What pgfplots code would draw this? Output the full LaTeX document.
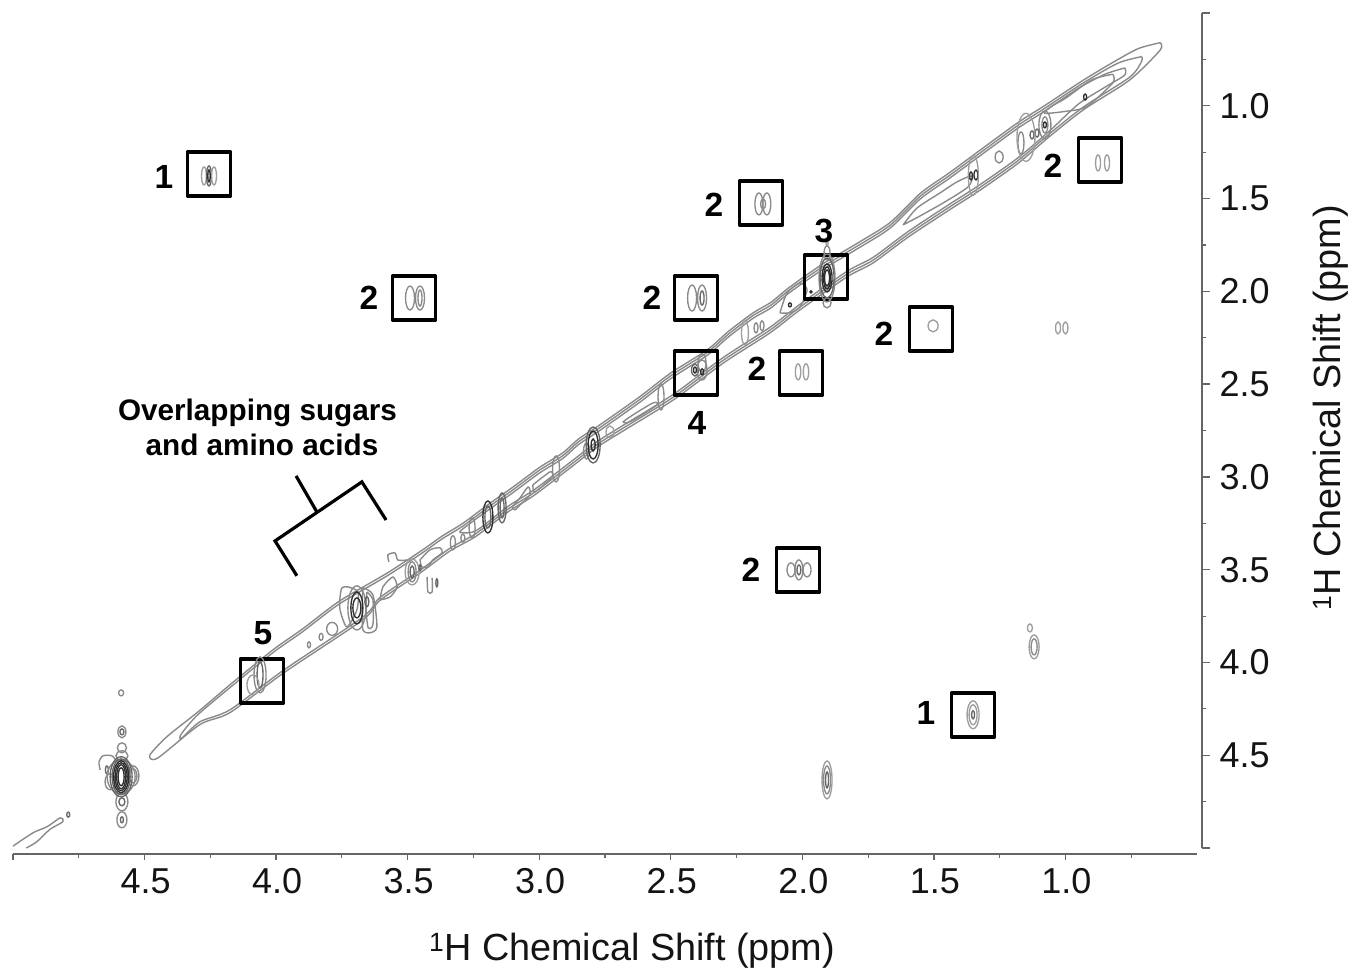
\documentclass[border=0pt]{standalone}
\usepackage{pgfplots}
\pgfplotsset{compat=1.18}
\usepackage{fontspec}
\setmainfont{Liberation Sans}
\definecolor{cL}{gray}{0.62}
\definecolor{cA}{gray}{0.54}
\definecolor{cM}{gray}{0.40}
\definecolor{cD}{gray}{0.18}
\definecolor{axc}{gray}{0.4}
\definecolor{txc}{gray}{0.08}
\newcommand\pk[5][cA]{\addplot[only marks, mark=o, mark size=1pt, mark options={xscale=#4, yscale=#5, draw=#1, line width=1.35pt, fill=none}] coordinates {(#2,#3)};}
\newcommand\bx[4]{\addplot[black, line width=3.4pt, line join=round, no markers] coordinates {(#1,#3) (#2,#3) (#2,#4) (#1,#4) (#1,#3) (#2,#3)};}
\tikzset{ct/.style={draw=cA, line width=1.4pt, smooth, tension=0.45, no markers, line join=round},
lab/.style={font=\fontsize{33.5}{36}\selectfont\bfseries, text=black, inner sep=0pt}}
\begin{document}
\begin{tikzpicture}
\useasboundingbox (0,0) rectangle (1356pt,970pt);
% ---------- x axis ----------
\begin{axis}[anchor=south west, at={(13pt,116pt)}, scale only axis, width=1184pt, height=835pt,
  x dir=reverse, xmin=0.5, xmax=5, ymin=0.5, ymax=5, hide y axis, axis x line=bottom,
  axis line style={-, draw=axc, line width=1.6pt},
  xtick={1,1.5,2,2.5,3,3.5,4,4.5,5}, xticklabels={1.0,1.5,2.0,2.5,3.0,3.5,4.0,4.5,},
  minor xtick={0.75,1.25,1.75,2.25,2.75,3.25,3.75,4.25,4.75},
  tick align=outside, major tick length=6pt, minor tick length=4pt,
  tick style={draw=axc, line width=1.3pt}, minor tick style={draw=axc, line width=1.1pt},
  xticklabel style={font=\fontsize{36}{40}\selectfont, text=txc, yshift=-5pt, xshift=1pt}]
\addplot[draw=none] coordinates {(1,1)};
\end{axis}
% ---------- y axis ----------
\begin{axis}[anchor=south west, at={(18pt,122pt)}, scale only axis, width=1184pt, height=835pt,
  x dir=reverse, y dir=reverse, xmin=0.5, xmax=5, ymin=0.5, ymax=5, hide x axis, axis y line=right,
  axis line style={-, draw=axc, line width=1.6pt},
  ytick={0.5,1,1.5,2,2.5,3,3.5,4,4.5,5}, yticklabels={,1.0,1.5,2.0,2.5,3.0,3.5,4.0,4.5,},
  minor ytick={0.75,1.25,1.75,2.25,2.75,3.25,3.75,4.25,4.75},
  tick align=outside, major tick length=8pt, minor tick length=4pt,
  tick style={draw=axc, line width=1.3pt}, minor tick style={draw=axc, line width=1.1pt},
  yticklabel style={font=\fontsize{36}{40}\selectfont, text=txc, xshift=6pt}]
\addplot[draw=none] coordinates {(1,1)};
\end{axis}
% ---------- data ----------
\begin{axis}[anchor=south west, at={(13pt,122pt)}, scale only axis, width=1184pt, height=835pt,
  x dir=reverse, y dir=reverse, xmin=0.5, xmax=5, ymin=0.5, ymax=5, hide axis]
% diagonal outer contour
\addplot[ct] coordinates {(0.64,0.66)(0.72,0.69)(0.80,0.75)(0.93,0.86)(1.08,1.00)(1.18,1.09)(1.33,1.245)(1.44,1.36)(1.55,1.47)(1.667,1.63)(1.79,1.74)(1.92,1.85)(2.047,1.976)(2.12,2.06)(2.187,2.116)(2.28,2.215)(2.362,2.316)(2.50,2.44)(2.62,2.57)(2.77,2.72)(2.85,2.795)(2.91,2.87)(3.0,2.95)(3.10,3.055)(3.20,3.155)(3.29,3.25)(3.37,3.32)(3.45,3.40)(3.58,3.52)(3.76,3.67)(3.9,3.82)(4.01,3.93)(4.175,4.12)(4.30,4.27)(4.415,4.40)(4.48,4.50)(4.45,4.515)(4.29,4.335)(4.175,4.27)(3.97,4.055)(3.67,3.77)(3.605,3.665)(3.45,3.515)(3.34,3.40)(3.24,3.32)(3.12,3.19)(3.02,3.10)(2.89,2.96)(2.78,2.84)(2.69,2.76)(2.49,2.585)(2.30,2.386)(2.123,2.224)(2.009,2.10)(1.83,1.922)(1.731,1.847)(1.6,1.71)(1.44,1.56)(1.33,1.46)(1.18,1.31)(1.06,1.165)(0.93,1.02)(0.755,0.86)(0.64,0.70)(0.64,0.66)};
% second contour
\addplot[ct] coordinates {(0.71,0.735)(0.80,0.77)(0.93,0.875)(1.08,1.015)(1.18,1.105)(1.33,1.26)(1.44,1.375)(1.55,1.485)(1.667,1.645)(1.79,1.755)(1.92,1.865)(2.047,1.99)(2.12,2.075)(2.187,2.13)(2.28,2.23)(2.362,2.33)(2.50,2.455)(2.62,2.585)(2.77,2.735)(2.85,2.81)(2.91,2.885)(3.0,2.965)(3.10,3.07)(3.20,3.17)(3.29,3.265)(3.37,3.335)(3.45,3.415)(3.58,3.535)(3.76,3.685)(3.9,3.835)(4.01,3.945)(4.175,4.135)(4.30,4.285)(4.36,4.385)(4.36,4.41)(4.29,4.32)(4.175,4.255)(3.97,4.04)(3.67,3.755)(3.605,3.65)(3.45,3.50)(3.34,3.385)(3.24,3.305)(3.12,3.175)(3.02,3.085)(2.89,2.945)(2.78,2.825)(2.69,2.745)(2.49,2.57)(2.30,2.371)(2.123,2.209)(2.009,2.085)(1.83,1.907)(1.731,1.832)(1.6,1.695)(1.44,1.545)(1.33,1.445)(1.18,1.295)(1.06,1.15)(0.93,1.005)(0.755,0.845)(0.71,0.76)(0.71,0.735)};
% third contour
\addplot[ct] coordinates {(0.774,0.796)(0.85,0.83)(0.95,0.905)(1.08,1.03)(1.18,1.12)(1.33,1.275)(1.44,1.39)(1.55,1.50)(1.667,1.66)(1.79,1.77)(1.92,1.88)(2.047,2.005)(2.12,2.09)(2.187,2.145)(2.28,2.245)(2.362,2.345)(2.50,2.47)(2.62,2.60)(2.77,2.75)(2.85,2.825)(2.91,2.90)(3.0,2.98)(3.10,3.085)(3.20,3.185)(3.29,3.28)(3.30,3.30)(3.24,3.29)(3.12,3.16)(3.02,3.07)(2.89,2.93)(2.78,2.81)(2.69,2.73)(2.49,2.555)(2.30,2.356)(2.123,2.194)(2.009,2.07)(1.83,1.892)(1.731,1.817)(1.6,1.68)(1.44,1.53)(1.33,1.43)(1.18,1.28)(1.06,1.135)(0.95,0.99)(0.85,0.90)(0.775,0.835)(0.774,0.796)};
% inner islands
\addplot[ct] coordinates {(0.82,0.83)(0.90,0.86)(1.0,0.96)(1.05,1.0)(1.08,1.04)(1.0,1.03)(0.92,1.005)(0.82,0.877)(0.82,0.83)};
\addplot[ct] coordinates {(1.617,1.642)(1.564,1.551)(1.477,1.47)(1.412,1.41)(1.355,1.378)(1.37,1.437)(1.458,1.518)(1.553,1.594)(1.617,1.642)};
\addplot[ct] coordinates {(2.085,2.116)(2.058,2.009)(2.009,1.955)(1.982,1.992)(2.009,2.084)(2.047,2.116)(2.085,2.116)};
\addplot[ct] coordinates {(2.682,2.704)(2.644,2.666)(2.567,2.601)(2.552,2.612)(2.628,2.682)(2.667,2.709)(2.682,2.704)};
\addplot[ct] coordinates {(3.024,3.043)(2.959,2.973)(2.951,3.0)(3.016,3.081)(3.024,3.043)};
\addplot[ct] coordinates {(3.103,3.162)(3.073,3.113)(3.042,3.054)(3.035,3.097)(3.073,3.151)(3.092,3.178)(3.103,3.162)};
\addplot[ct] coordinates {(3.453,3.447)(3.415,3.393)(3.377,3.382)(3.369,3.409)(3.404,3.447)(3.423,3.485)(3.446,3.485)(3.453,3.447)};
\addplot[ct] coordinates {(3.605,3.663)(3.594,3.593)(3.556,3.539)(3.54,3.593)(3.567,3.647)(3.605,3.663)};
% lobes around 3.7
\addplot[ct] coordinates {(3.757,3.647)(3.75,3.598)(3.727,3.593)(3.689,3.62)(3.693,3.717)(3.731,3.808)(3.757,3.717)(3.757,3.647)};
\addplot[ct] coordinates {(3.67,3.598)(3.632,3.636)(3.617,3.808)(3.643,3.84)(3.67,3.824)(3.673,3.70)(3.67,3.598)};
\addplot[ct] coordinates {(3.655,3.62)(3.632,3.663)(3.632,3.797)(3.65,3.813)(3.658,3.717)(3.655,3.62)};
% strays near 3.5
\addplot[ct] coordinates {(3.571,3.458)(3.575,3.42)(3.548,3.41)(3.537,3.448)(3.502,3.448)};
\addplot[ct] coordinates {(3.426,3.539)(3.423,3.62)(3.407,3.62)(3.407,3.544)};
% lower-left tail
\addplot[ct] coordinates {(5.0,4.99)(4.924,4.918)(4.87,4.885)(4.82,4.837)(4.81,4.858)(4.86,4.90)(4.91,4.967)(4.95,5.0)};
\pk[cM]{4.79}{4.82}{1.5}{2.5}
% hook near the big peak
\addplot[ct] coordinates {(4.669,4.579)(4.673,4.535)(4.658,4.503)(4.624,4.503)(4.605,4.535)};
% big peak at 4.6
\pk[cA]{4.589}{4.164}{2.5}{3}
\pk[cA]{4.586}{4.374}{4}{6}
\pk[cM]{4.586}{4.374}{2}{3}
\pk[cA]{4.586}{4.46}{4.5}{5}
\pk[cA]{4.586}{4.503}{6}{5}
\pk[cA]{4.586}{4.751}{6}{9}
\pk[cM]{4.586}{4.751}{3}{4}
\pk[cA]{4.586}{4.848}{5}{8}
\pk[cM]{4.586}{4.848}{1.5}{3}
\pk[cA]{4.544}{4.611}{6}{10}
\pk[cA]{4.544}{4.611}{4}{7}
\pk[cM]{4.643}{4.579}{1.5}{4}
\pk[cA]{4.631}{4.643}{5}{8}
\pk[cA]{4.589}{4.616}{14}{17}
\pk[cM]{4.589}{4.616}{11}{20}
\pk[cM]{4.589}{4.616}{9}{18}
\pk[cD]{4.589}{4.616}{7.5}{16}
\pk[cD]{4.589}{4.616}{6}{14}
\pk[cD]{4.589}{4.616}{4.5}{12}
\pk[cD]{4.589}{4.616}{3}{9}
% off-diagonal peaks
\pk[cL]{4.274}{1.378}{2.5}{9}
\pk[cM]{4.255}{1.378}{2.5}{10}
\pk[cL]{4.236}{1.378}{2.5}{9}
\pk[cD]{4.255}{1.378}{1.2}{6}
\pk[cA]{3.491}{2.036}{4.5}{12}
\pk[cA]{3.453}{2.036}{4.5}{12}
\pk[cA]{3.453}{2.036}{2}{8}
\pk[cA]{2.419}{2.036}{4.5}{13}
\pk[cA]{2.381}{2.036}{4.5}{13}
\pk[cM]{2.381}{2.036}{2}{7}
\pk[cA]{2.165}{1.529}{4}{11}
\pk[cA]{2.135}{1.529}{4}{11}
\pk[cA]{2.149}{1.529}{2.5}{5}
\pk[cL]{0.876}{1.308}{2.5}{8}
\pk[cL]{0.842}{1.308}{2.5}{8}
\pk[cL]{2.016}{2.434}{2.7}{8}
\pk[cL]{1.986}{2.434}{2.7}{8}
\pk[cA]{2.043}{3.501}{4}{7}
\pk[cA]{2.013}{3.501}{4}{10}
\pk[cA]{1.982}{3.501}{4}{7}
\pk[cM]{2.013}{3.501}{2}{5}
\pk[cL]{1.503}{2.186}{5}{6}
\pk[cL]{1.351}{4.282}{6}{14}
\pk[cL]{1.351}{4.282}{4}{10}
\pk[cM]{1.351}{4.282}{1.5}{4}
\pk[cL]{1.906}{4.633}{5}{19}
\pk[cA]{1.906}{4.633}{3.5}{14}
\pk[cM]{1.906}{4.633}{1.5}{8}
\pk[cL]{1.119}{3.916}{5}{12}
\pk[cA]{1.119}{3.916}{3}{8}
\pk[cL]{1.135}{3.814}{2.5}{4}
\pk[cL]{1.028}{2.197}{2.5}{6}
\pk[cL]{1.0}{2.197}{2.5}{6}
% box 3 peak
\pk[cL]{1.906}{1.739}{1}{3}
\pk[cA]{1.906}{1.793}{3}{7}
\pk[cA]{1.906}{2.062}{4}{5}
\pk[cA]{1.906}{1.928}{8}{24}
\pk[cM]{1.906}{1.928}{7}{20}
\pk[cD]{1.906}{1.928}{5}{14}
\pk[cD]{1.906}{1.928}{3.5}{11}
\pk[cD]{1.906}{1.928}{2.5}{8}
\pk[cD]{1.967}{2.003}{1}{1}
% box 4 peak
\pk[cM]{2.408}{2.424}{3.5}{6}
\pk[cA]{2.381}{2.424}{5}{10}
\pk[cA]{2.381}{2.386}{4}{9}
\pk[cD]{2.381}{2.434}{1.5}{3}
\pk[cD]{2.408}{2.424}{1.5}{3}
% diagonal peaks
\pk[cD]{0.925}{0.953}{1.5}{3}
\pk[cA]{1.078}{1.103}{6}{14}
\pk[cA]{1.078}{1.103}{3}{8}
\pk[cD]{1.078}{1.103}{1.5}{3}
\pk[cM]{1.127}{1.157}{2}{4}
\pk[cM]{1.108}{1.147}{2}{4}
\pk[cA]{1.169}{1.20}{3}{11}
\pk[cL]{1.15}{1.17}{9}{24}
\pk[cA]{1.252}{1.276}{4}{6}
\pk[cD]{1.359}{1.378}{1.5}{4}
\pk[cD]{1.34}{1.373}{2}{5}
\pk[cL]{1.35}{1.375}{5}{20}
\pk[cD]{2.047}{2.073}{1.5}{2}
\pk[cA]{2.176}{2.197}{2}{5}
\pk[cA]{2.153}{2.186}{2}{5}
\pk[cL]{2.218}{2.224}{3.5}{12}
\pk[cA]{2.537}{2.569}{3}{13}
\pk[cL]{2.731}{2.758}{4}{6}
\pk[cA]{2.82}{2.86}{3}{8}
\pk[cM]{2.795}{2.828}{7}{18}
\pk[cD]{2.795}{2.828}{5}{14}
\pk[cD]{2.795}{2.828}{2}{6}
\pk[cA]{2.936}{2.957}{3.5}{13}
\pk[cM]{3.141}{3.167}{4}{15}
\pk[cM]{3.141}{3.167}{2}{10}
\pk[cD]{3.195}{3.216}{5}{16}
\pk[cM]{3.195}{3.216}{3}{11}
\pk[cA]{3.255}{3.275}{3}{10}
\pk[cA]{3.328}{3.355}{2.5}{7}
\pk[cA]{3.29}{3.33}{2}{4}
% around 3.7
\pk[cA]{3.693}{3.706}{9}{22}
\pk[cD]{3.693}{3.706}{6}{16}
\pk[cD]{3.693}{3.706}{4}{10}
\pk[cM]{3.655}{3.673}{2}{5}
\pk[cA]{3.787}{3.819}{5.5}{6.5}
\pk[cA]{3.829}{3.862}{2}{3.5}
\pk[cA]{3.875}{3.905}{1.5}{3}
% around 3.5
\pk[cL]{3.483}{3.512}{7}{13}
\pk[cA]{3.483}{3.512}{4}{10}
\pk[cM]{3.483}{3.512}{2}{6}
\pk[cM]{3.453}{3.49}{1}{3}
\pk[cM]{3.389}{3.571}{1}{4}
% box 5 peak
\pk[cA]{4.061}{4.067}{6}{18}
\pk[cM]{4.061}{4.067}{3}{13}
\pk[cL]{4.088}{4.121}{6}{10}
% bracket
\addplot[black, line width=3.2pt, no markers, line join=miter] coordinates {(3.921,3.533)(4.004,3.345)(3.674,3.027)(3.582,3.232)};
\addplot[black, line width=3.2pt, no markers] coordinates {(3.924,2.995)(3.845,3.189)};
% boxes
\bx{4.337}{4.173}{1.249}{1.486}
\bx{3.558}{3.394}{1.918}{2.155}
\bx{2.486}{2.322}{1.918}{2.155}
\bx{2.239}{2.075}{1.406}{1.643}
\bx{1.992}{1.828}{1.804}{2.041}
\bx{0.950}{0.786}{1.174}{1.411}
\bx{1.593}{1.429}{2.085}{2.322}
\bx{2.087}{1.923}{2.322}{2.559}
\bx{2.486}{2.322}{2.322}{2.559}
\bx{2.098}{1.934}{3.383}{3.620}
\bx{1.433}{1.269}{4.164}{4.401}
\bx{4.136}{3.972}{3.981}{4.218}
\end{axis}
% ---------- annotations ----------
\node[lab] at (164pt,793pt) {1};
\node[lab] at (369pt,672pt) {2};
\node[lab] at (652pt,672pt) {2};
\node[lab] at (714pt,765pt) {2};
\node[lab] at (824pt,739pt) {3};
\node[lab] at (1053pt,804pt) {2};
\node[lab] at (884pt,636pt) {2};
\node[lab] at (757pt,601pt) {2};
\node[lab] at (697pt,547pt) {4};
\node[lab] at (751pt,400pt) {2};
\node[lab] at (926pt,257pt) {1};
\node[lab] at (263pt,337pt) {5};
\node[font=\fontsize{29.7}{34}\selectfont\bfseries, inner sep=0pt] at (257.5pt,557pt) {Overlapping sugars};
\node[font=\fontsize{29.7}{34}\selectfont\bfseries, inner sep=0pt] at (262pt,525pt) {and amino acids};
\node[font=\fontsize{37.8}{40}\selectfont, text=txc, inner sep=0pt] at (632pt,19pt) {\textsuperscript{1}H Chemical Shift (ppm)};
\node[font=\fontsize{37.8}{40}\selectfont, text=txc, inner sep=0pt, rotate=90] at (1331pt,562pt) {\textsuperscript{1}H Chemical Shift (ppm)};
\end{tikzpicture}
\end{document}
